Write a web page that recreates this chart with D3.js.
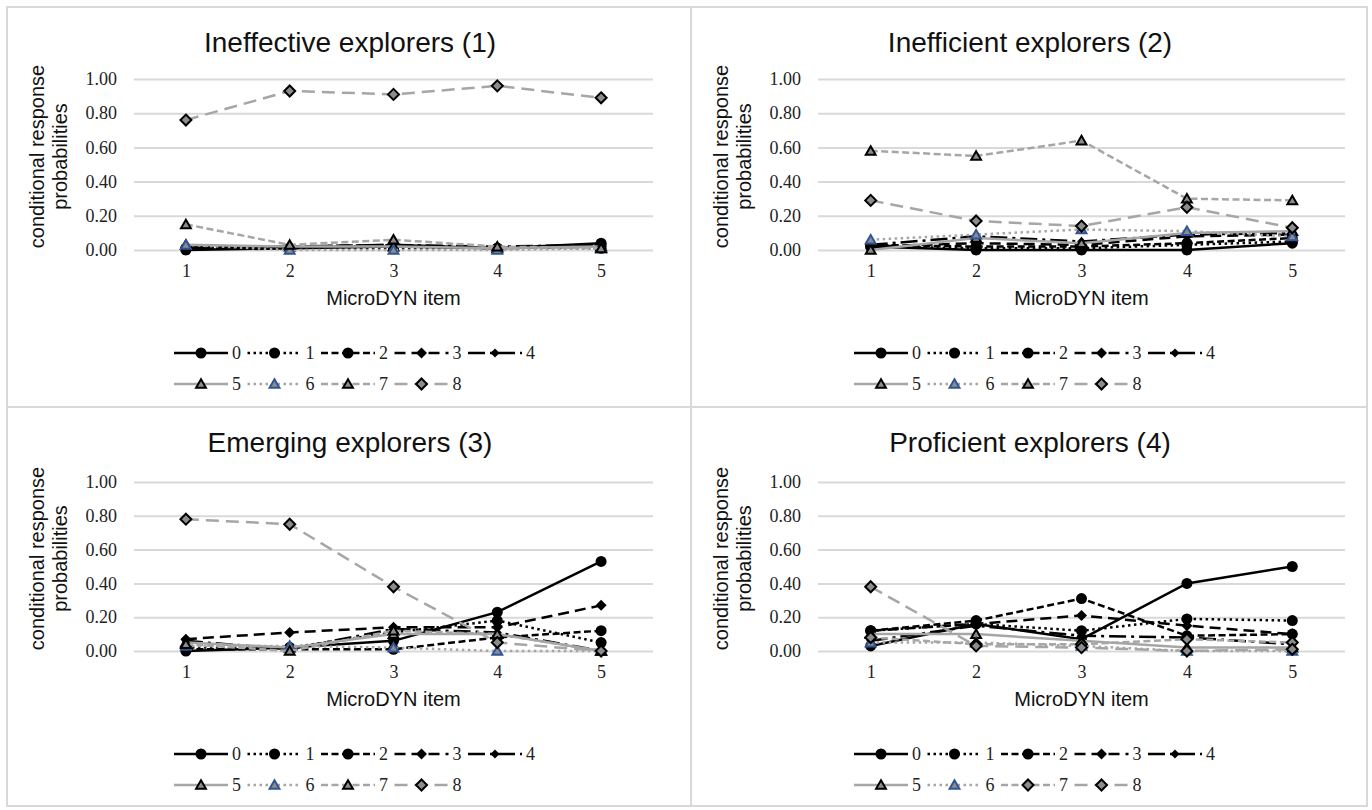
<!DOCTYPE html>
<html>
<head>
<meta charset="utf-8">
<script src="https://cdn.jsdelivr.net/npm/d3@7"></script>
<style>
  body { margin: 0; background: #fff; }
  svg { display: block; }
</style>
</head>
<body>
<script>
// MicroDYN items on the x axis, y tick values
const items = [1, 2, 3, 4, 5];
const yTicks = [0, 0.2, 0.4, 0.6, 0.8, 1.0];
const seriesKeys = ["0", "1", "2", "3", "4", "5", "6", "7", "8"];
const panelTitles = ["Ineffective explorers (1)", "Inefficient explorers (2)",
                     "Emerging explorers (3)", "Proficient explorers (4)"];

// one row per legend key 0..8, values for items 1..5
const ineffective = [
  [0.00, 0.01, 0.02, 0.01, 0.04],
  [0.01, 0.01, 0.01, 0.01, 0.01],
  [0.01, 0.01, 0.03, 0.01, 0.03],
  [0.01, 0.02, 0.03, 0.01, 0.02],
  [0.02, 0.02, 0.03, 0.02, 0.03],
  [0.03, 0.02, 0.02, 0.01, 0.02],
  [0.03, 0.00, 0.00, 0.00, 0.01],
  [0.15, 0.03, 0.06, 0.02, 0.01],
  [0.76, 0.93, 0.91, 0.96, 0.89]
];
const inefficient = [
  [0.02, 0.00, 0.00, 0.00, 0.04],
  [0.02, 0.01, 0.01, 0.03, 0.05],
  [0.03, 0.02, 0.02, 0.04, 0.07],
  [0.02, 0.04, 0.03, 0.08, 0.09],
  [0.03, 0.08, 0.05, 0.09, 0.10],
  [0.00, 0.07, 0.04, 0.10, 0.11],
  [0.06, 0.09, 0.12, 0.11, 0.08],
  [0.58, 0.55, 0.64, 0.30, 0.29],
  [0.29, 0.17, 0.14, 0.25, 0.13]
];
const emerging = [
  [0.00, 0.02, 0.06, 0.23, 0.53],
  [0.02, 0.02, 0.11, 0.18, 0.05],
  [0.01, 0.01, 0.01, 0.08, 0.12],
  [0.07, 0.11, 0.14, 0.14, 0.27],
  [0.06, 0.01, 0.13, 0.11, 0.00],
  [0.05, 0.02, 0.10, 0.10, 0.00],
  [0.03, 0.03, 0.02, 0.00, 0.00],
  [0.04, 0.00, 0.12, 0.10, 0.00],
  [0.78, 0.75, 0.38, 0.05, 0.00]
];
const proficient = [
  [0.03, 0.16, 0.07, 0.40, 0.50],
  [0.12, 0.16, 0.12, 0.19, 0.18],
  [0.12, 0.18, 0.31, 0.09, 0.10],
  [0.12, 0.16, 0.21, 0.15, 0.10],
  [0.06, 0.15, 0.09, 0.08, 0.04],
  [0.10, 0.10, 0.06, 0.02, 0.02],
  [0.05, 0.05, 0.03, 0.00, 0.00],
  [0.08, 0.04, 0.04, 0.07, 0.05],
  [0.38, 0.03, 0.02, 0.00, 0.01]
];
const panelData = [ineffective, inefficient, emerging, proficient];

// styles
const black = "#000", gray = "#a6a6a6", markGray = "#8c8c8c", blue = "#2f5597";
const lineColor = [black, black, black, black, black, gray, gray, gray, gray];
const lineDash = [null, "2.5,3.5", "7,3.5", "11,6", "17,5,3,5", null, "2.5,3.5", "7,3.5", "13,7"];
const markers = ["circle", "circle", "circle", "diamond", "smallDiamond", "triangle", "triangle", "triangle", "diamond"];

const W = 1372, H = 810;
const panels = [
  { bx: 7,   by: 7,   bw: 684, bh: 400, px: [134, 653],  py: [79, 250],  tx: 350,  lx: 174 },
  { bx: 691, by: 7,   bw: 676, bh: 400, px: [818, 1345], py: [79, 250],  tx: 1030, lx: 854 },
  { bx: 7,   by: 407, bw: 684, bh: 399, px: [134, 653],  py: [482, 651], tx: 350,  lx: 174 },
  { bx: 691, by: 407, bw: 676, bh: 399, px: [818, 1345], py: [482, 651], tx: 1030, lx: 854 }
];

const svg = d3.select("body").append("svg")
  .attr("width", W).attr("height", H)
  .attr("viewBox", `0 0 ${W} ${H}`);

const serif = "'Liberation Serif', 'Times New Roman', serif";
const sans = "'Liberation Sans', Arial, sans-serif";

function drawMarker(g, kind, k, cx, cy) {
  if (kind === "circle") {
    g.append("circle").attr("cx", cx).attr("cy", cy).attr("r", 5.5).attr("fill", black);
    return;
  }
  if (kind === "diamond" || kind === "smallDiamond") {
    const s = kind === "diamond" ? 5.5 : 4.5;
    const solid = k < 5;
    g.append("path")
      .attr("d", `M${cx},${cy - s}L${cx + s},${cy}L${cx},${cy + s}L${cx - s},${cy}Z`)
      .attr("fill", solid ? black : markGray)
      .attr("stroke", black)
      .attr("stroke-width", solid ? 0 : 2);
    return;
  }
  // triangle
  g.append("path")
    .attr("d", d3.symbol().type(d3.symbolTriangle).size(42)())
    .attr("transform", `translate(${cx},${cy + 1})`)
    .attr("fill", markGray)
    .attr("stroke", k === 6 ? blue : black)
    .attr("stroke-width", 2);
}

panels.forEach((p, pi) => {
  const data = panelData[pi];
  const g = svg.append("g");

  g.append("rect")
    .attr("x", p.bx).attr("y", p.by).attr("width", p.bw).attr("height", p.bh)
    .attr("fill", "#fff").attr("stroke", "#d9d9d9").attr("stroke-width", 2);

  const x = d3.scalePoint().domain(items).range(p.px).padding(0.5);
  const y = d3.scaleLinear().domain([0, 1]).range([p.py[1], p.py[0]]);

  // y axis with gridlines
  const yAxis = g.append("g")
    .attr("transform", `translate(${p.px[0]},0)`)
    .call(d3.axisLeft(y).tickValues(yTicks).tickFormat(d3.format(".2f"))
      .tickSize(-(p.px[1] - p.px[0])).tickPadding(17));
  yAxis.select(".domain").remove();
  yAxis.selectAll(".tick line").attr("stroke", "#d9d9d9").attr("stroke-width", 2);
  yAxis.selectAll(".tick text").attr("font-family", serif).attr("font-size", 18).attr("fill", "#222");

  // x axis labels
  const xAxis = g.append("g")
    .attr("transform", `translate(0,${p.py[1]})`)
    .call(d3.axisBottom(x).tickSize(0).tickPadding(14));
  xAxis.select(".domain").remove();
  xAxis.selectAll(".tick text").attr("font-family", serif).attr("font-size", 18).attr("fill", "#222");

  // title
  g.append("text")
    .attr("x", p.tx).attr("y", p.by + 45)
    .attr("text-anchor", "middle")
    .attr("font-family", sans).attr("font-size", 28).attr("fill", "#111")
    .text(panelTitles[pi]);

  // y axis title
  const yt = g.append("text")
    .attr("transform", `translate(${p.bx + 37},${(p.py[0] + p.py[1]) / 2 - 8}) rotate(-90)`)
    .attr("text-anchor", "middle")
    .attr("font-family", sans).attr("font-size", 20).attr("fill", "#111");
  yt.append("tspan").attr("x", 0).attr("dy", 0).text("conditional response");
  yt.append("tspan").attr("x", 0).attr("dy", 23).text("probabilities");

  // x axis title
  g.append("text")
    .attr("x", (p.px[0] + p.px[1]) / 2).attr("y", p.py[1] + 55)
    .attr("text-anchor", "middle")
    .attr("font-family", sans).attr("font-size", 20).attr("fill", "#111")
    .text("MicroDYN item");

  const line = d3.line()
    .x((d, i) => x(items[i]))
    .y(d => y(d));

  const markerFor = k => (pi === 3 && k === 7) ? "diamond" : markers[k];

  // lines and markers, key 0 drawn first
  data.forEach((vals, k) => {
    const sg = g.append("g");
    sg.append("path")
      .attr("d", line(vals))
      .attr("fill", "none")
      .attr("stroke", lineColor[k])
      .attr("stroke-width", 2.5)
      .attr("stroke-dasharray", lineDash[k]);
    vals.forEach((v, i) => drawMarker(sg, markerFor(k), k, x(items[i]), y(v)));
  });

  // legend
  const leg = g.append("g");
  seriesKeys.forEach((key, k) => {
    const row = k < 5 ? 0 : 1;
    const col = k % 5;
    const lx = p.lx + col * 73.5;
    const ly = p.py[1] + 103 + row * 31;
    leg.append("line")
      .attr("x1", lx).attr("x2", lx + 54).attr("y1", ly).attr("y2", ly)
      .attr("stroke", lineColor[k]).attr("stroke-width", 2.5)
      .attr("stroke-dasharray", lineDash[k]);
    drawMarker(leg, markerFor(k), k, lx + 27, ly);
    leg.append("text")
      .attr("x", lx + 58).attr("y", ly + 6)
      .attr("font-family", serif).attr("font-size", 18).attr("fill", "#222")
      .text(key);
  });
});
</script>
</body>
</html>
